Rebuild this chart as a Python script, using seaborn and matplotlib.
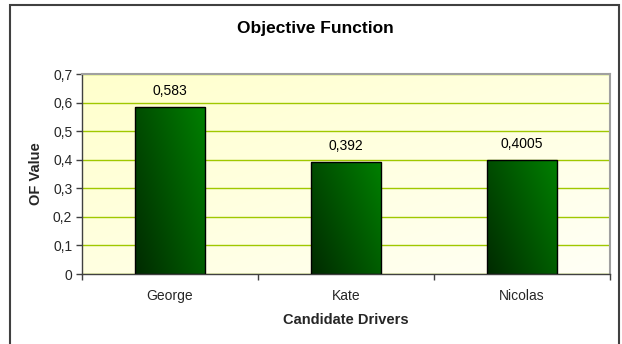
import numpy as np
import pandas as pd
import matplotlib
matplotlib.use("Agg")
import matplotlib.pyplot as plt
import matplotlib.patches as mpatches
from matplotlib.colors import LinearSegmentedColormap
from matplotlib.ticker import FuncFormatter, MultipleLocator
import seaborn as sns

drivers = ["George", "Kate", "Nicolas"]
of_values = [0.583, 0.392, 0.4005]
value_labels = ["0,583", "0,392", "0,4005"]

sns.set_theme(style="white")
plt.rcParams["font.family"] = ["Liberation Sans", "DejaVu Sans"]

df = pd.DataFrame({"driver": drivers, "value": of_values})

fig = plt.figure(figsize=(6.22, 3.44), dpi=100)
fig.patch.set_facecolor("white")
ax = fig.add_axes([82 / 622, 70 / 344, 528 / 622, 200 / 344])

# background gradient (light yellow top-left -> near white bottom-right)
bg_cmap = LinearSegmentedColormap.from_list("bg", ["#FFFFF6", "#FFFFCC"])
gx, gy = np.meshgrid(np.linspace(0, 1, 200), np.linspace(0, 1, 200))
ax.imshow((1 - gx) * 0.5 + gy * 0.5, cmap=bg_cmap, origin="lower",
          extent=[0, 1, 0, 1], transform=ax.transAxes, aspect="auto", zorder=0)

sns.barplot(data=df, x="driver", y="value", ax=ax, width=0.40,
            color="#008000", edgecolor="black", linewidth=1.0, zorder=2)

bar_cmap = LinearSegmentedColormap.from_list("bar", ["#002A00", "#008000"])
for p in ax.patches:
    x0, y0 = p.get_x(), p.get_y()
    w, h = p.get_width(), p.get_height()
    im = ax.imshow((gx * 0.6 + gy * 0.4), cmap=bar_cmap, origin="lower",
                   extent=[x0, x0 + w, y0, y0 + h], aspect="auto", zorder=2.5)
    im.set_clip_path(p)
    p.set_facecolor("none")
    p.set_zorder(3)

for i, (v, lab) in enumerate(zip(of_values, value_labels)):
    ax.annotate(lab, (i, v), xytext=(0, 11.5), textcoords="offset points",
                ha="center", va="center", fontsize=10, color="black")

ax.set_xlim(-0.5, 2.5)
ax.set_ylim(0, 0.7)
ax.yaxis.set_major_locator(MultipleLocator(0.1))
ax.yaxis.set_major_formatter(FuncFormatter(
    lambda v, _: "0" if abs(v) < 1e-9 else f"{v:.1f}".replace(".", ",")))
ax.set_axisbelow(True)
ax.yaxis.grid(True, color="#A0C800", linewidth=1.0)
ax.xaxis.grid(False)

ax.set_xticks([0, 1, 2])
ax.set_xticklabels(drivers)
ax.set_xticks([-0.5, 0.5, 1.5, 2.5], minor=True)
ax.tick_params(axis="x", which="major", length=0, pad=11, labelsize=10)
ax.tick_params(axis="x", which="minor", length=4, width=1, color="#404040",
               direction="out", bottom=True)
ax.tick_params(axis="y", length=4, width=1, color="#404040", direction="out",
               left=True, labelsize=10, pad=3)

ax.set_xlabel("Candidate Drivers", fontsize=10.5, fontweight="bold", labelpad=7)
ax.set_ylabel("OF Value", fontsize=10.5, fontweight="bold", labelpad=7)
fig.text(315.5 / 622, 1 - 29 / 344, "Objective Function", fontsize=12.5,
         fontweight="bold", ha="center", va="center", color="black")

for s in ["left", "bottom"]:
    ax.spines[s].set_color("#404040")
    ax.spines[s].set_linewidth(1.0)
for s in ["top", "right"]:
    ax.spines[s].set_color("#A0A0A0")
    ax.spines[s].set_linewidth(1.5)

frame = mpatches.Rectangle((10 / 622, -0.02), 609 / 622, 1.02 - 5 / 344,
                           transform=fig.transFigure, fill=False,
                           edgecolor="#404040", linewidth=1.5, zorder=10)
fig.patches.append(frame)

fig.savefig("out.png", dpi=100)
